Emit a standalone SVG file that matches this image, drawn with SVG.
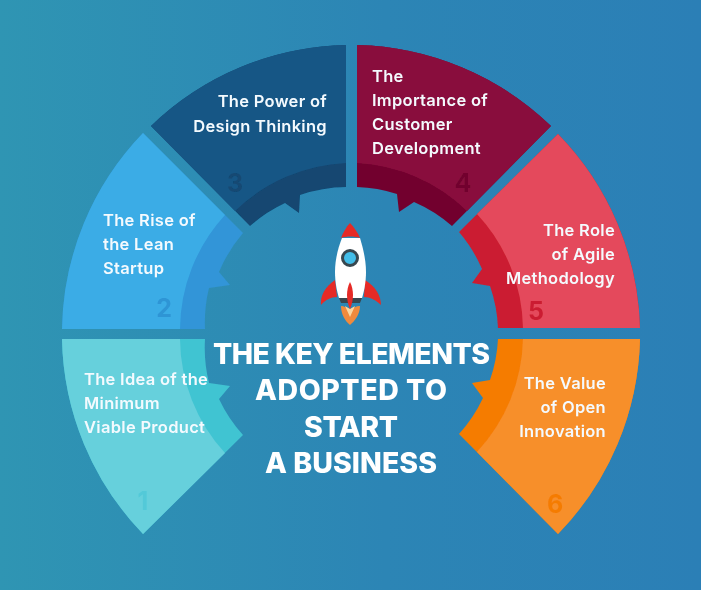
<svg xmlns="http://www.w3.org/2000/svg" width="701" height="590" viewBox="0 0 701 590">
<style>
.l{font-family:"Inter","Noto Sans",sans-serif;font-weight:600;font-size:16.5px;letter-spacing:.3px;fill:#f4fafe}
.e{text-anchor:end}
.n{font-family:"Inter","Noto Sans",sans-serif;font-weight:700;font-size:25px;text-anchor:middle}
.t{font-family:"Inter","Noto Sans",sans-serif;font-weight:800;font-size:28.5px;fill:#fff;text-anchor:middle}
</style>
<defs>
<linearGradient id="bg" x1="0" y1="0" x2="1" y2="0"><stop offset="0" stop-color="#2f95b3"/><stop offset="0.55" stop-color="#2c85b5"/><stop offset="1" stop-color="#2b7fb6"/></linearGradient>
<filter id="soft" x="0" y="0" width="1" height="1"><feGaussianBlur stdDeviation="0.45"/></filter>
</defs>
<rect width="701" height="590" fill="url(#bg)"/>
<g filter="url(#soft)">
<g id="node-1">
<path fill="#41c4d2" d="M62,339 A289,289 0 0 0 143,534 L243,435 A146,146 0 0 1 219,399 L230,386 L209,383 A146,146 0 0 1 205,339 Z"/>
<path fill="#66d0dc" d="M62,339 A289,289 0 0 0 143,534 L225,453 A171,171 0 0 1 180,339 Z"/>
<text class="n" x="143" y="510" fill="#52c9d8">1</text>
<text class="l" x="84" y="385">The Idea of the</text><text class="l" x="84" y="409">Minimum</text><text class="l" x="84" y="433">Viable Product</text>
</g>
<g id="node-2">
<path fill="#3195d8" d="M62,329 A289,289 0 0 1 143,133 L243,233 A146,146 0 0 0 219,272 L230,285 L209,288 A146,146 0 0 0 205,329 Z"/>
<path fill="#3bace6" d="M62,329 A289,289 0 0 1 143,133 L225,215 A171,171 0 0 0 180,329 Z"/>
<text class="n" x="164" y="317" fill="#2e95d5">2</text>
<text class="l" x="103" y="226">The Rise of</text><text class="l" x="103" y="250">the Lean</text><text class="l" x="103" y="274">Startup</text>
</g>
<g id="node-3">
<path fill="#124771" d="M346,45 A289,289 0 0 0 151,126 L250,226 A146,146 0 0 1 285,203 L299,213 L300,195 A146,146 0 0 1 346,187 Z"/>
<path fill="#175685" d="M346,45 A289,289 0 0 0 151,126 L235,211 A171,171 0 0 1 346,163 Z"/>
<text class="n" x="235" y="192" fill="#124a73">3</text>
<text class="l e" x="327" y="107">The Power of</text><text class="l e" x="327" y="132">Design Thinking</text>
</g>
<g id="node-4">
<path fill="#72002f" d="M357,45 A289,289 0 0 1 551,126 L452,226 A146,146 0 0 0 414,202 L399,212 L397,194 A146,146 0 0 0 357,187 Z"/>
<path fill="#890e3d" d="M357,45 A289,289 0 0 1 551,126 L467,211 A171,171 0 0 0 357,163 Z"/>
<text class="n" x="463" y="192" fill="#72062f">4</text>
<text class="l" x="372" y="82">The</text><text class="l" x="372" y="106">Importance of</text><text class="l" x="372" y="130">Customer</text><text class="l" x="372" y="154">Development</text>
</g>
<g id="node-5">
<path fill="#cb1f30" d="M640,328 A289,289 0 0 0 558,134 L459,232 A146,146 0 0 1 482,269 L472,283 L490,286 A146,146 0 0 1 498,328 Z"/>
<path fill="#e44a5b" d="M640,328 A289,289 0 0 0 558,134 L477,214 A171,171 0 0 1 523,328 Z"/>
<text class="n" x="536" y="320" fill="#cb1f30">5</text>
<text class="l e" x="615" y="236">The Role</text><text class="l e" x="615" y="260">of Agile</text><text class="l e" x="615" y="284">Methodology</text>
</g>
<g id="node-6">
<path fill="#f57c06" d="M640,339 A289,289 0 0 1 558,534 L459,434 A146,146 0 0 0 483,398 L472,383 L490,380 A146,146 0 0 0 498,339 Z"/>
<path fill="#f78f2b" d="M640,339 A289,289 0 0 1 558,534 L477,452 A171,171 0 0 0 523,339 Z"/>
<text class="n" x="555" y="513" fill="#f57c06">6</text>
<text class="l e" x="606" y="389">The Value</text><text class="l e" x="606" y="413">of Open</text><text class="l e" x="606" y="437">Innovation</text>
</g>
<g id="connectors"/>
<g id="rocket">
<path fill="#e62a25" d="M335,280 C325,287 320,296 321,305 C325,300 331,297 337,297 Z"/>
<path fill="#e62a25" d="M365,280 C376,287 381,296 381,305 C376,300 370,297 364,297 Z"/>
<path fill="#fff" d="M342,238 C338,248 335,260 335,272 C335,282 337,292 339,298 L362,298 C364,292 366,282 366,272 C366,260 363,248 360,238 Z"/>
<path fill="#e62a25" d="M350,223 C346,227 343,233 341,238 C347,236 354,236 360,238 C358,233 354,227 350,223 Z"/>
<circle cx="350" cy="258" r="7.500" fill="#42bde8" stroke="#37474f" stroke-width="3"/>
<path fill="#37474f" d="M339,298 H362 L360,303 H341 Z"/>
<path fill="#f08a3c" d="M341,306 C344,306 347,308 350,309 C353,308 356,306 360,306 C360,314 355,321 350,325 C345,321 341,314 341,306 Z"/>
<path fill="#fbd6a0" d="M345,306 L350,317 L355,306 L350,309 Z"/>
<path fill="#e62a25" d="M350,282 C346,290 346,300 350,309 C354,300 354,290 350,282 Z"/>
</g>
<g id="title">
<text class="t" x="351.500" y="364" textLength="277">THE KEY ELEMENTS</text>
<text class="t" x="351" y="400" textLength="192">ADOPTED TO</text>
<text class="t" x="351" y="437" textLength="94">START</text>
<text class="t" x="351" y="473" textLength="172">A BUSINESS</text>
</g>
</g>
</svg>
